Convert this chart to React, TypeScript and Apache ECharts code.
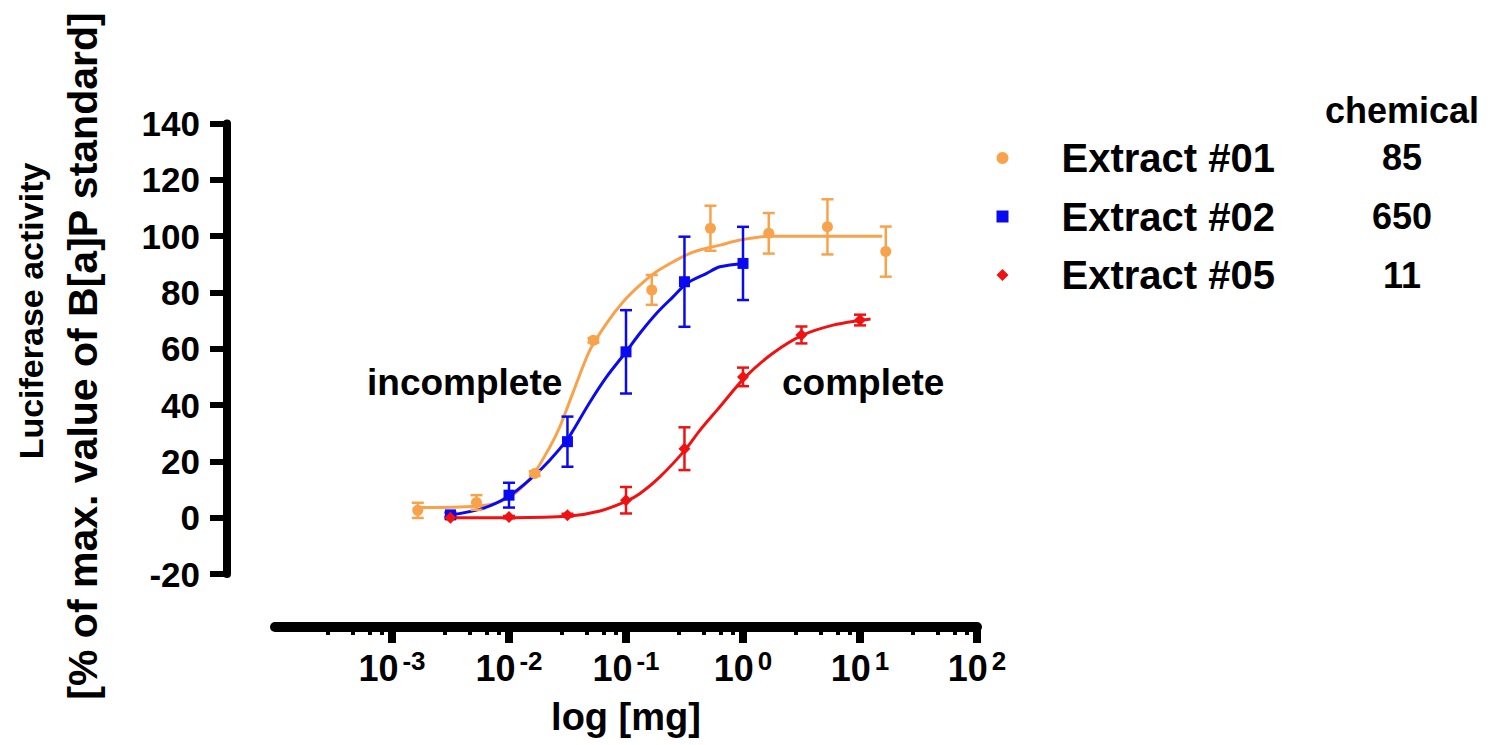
import React, { useEffect, useRef } from "react";
import * as echarts from "echarts";

const FONT = "'Liberation Sans', Arial, Helvetica, sans-serif";

// ---- series meta ----
const seriesNames = ["Extract #01", "Extract #02", "Extract #05"];
const seriesColors = ["#F9A24C", "#0A0AF2", "#F01212"];
const seriesSymbols = ["circle", "rect", "diamond"];
const chemicalHeader = "chemical";
const chemicalValues = ["85", "650", "11"];
const annotations = ["incomplete", "complete"];

// ---- measured points (dose in mg, mean %, error) ----
const ex01Dose = [0.00166, 0.00527, 0.0166, 0.0527, 0.166, 0.527, 1.66, 5.27, 16.6];
const ex01Mean = [2.6, 5.4, 15.7, 63, 80.9, 102.8, 101, 103.3, 94.5];
const ex01Err = [2.7, 2.6, 0.8, 0.8, 5.3, 8, 7.2, 9.8, 8.9];

const ex02Dose = [0.00316, 0.01, 0.0316, 0.1, 0.316, 1.0];
const ex02Mean = [1.0, 8.0, 27, 58.9, 83.8, 90.3];
const ex02Err = [0.8, 4.4, 8.9, 14.8, 16, 13];

const ex05Dose = [0.00316, 0.01, 0.0316, 0.1, 0.316, 1.0, 3.16, 10];
const ex05Mean = [0, 0.2, 0.9, 6.2, 24.5, 50, 64.9, 70.2];
const ex05Err = [0.4, 0.4, 0.5, 4.7, 7.6, 3.3, 3, 1.9];

// ---- fitted curves ----
const ex01Curve = [
  [0.00156, 3.6], [0.00527, 4.1], [0.00835, 5.6], [0.0117, 9.2], [0.016, 15.1],
  [0.0224, 25.2], [0.0272, 32.3], [0.0353, 44.5], [0.0491, 59.5], [0.0682, 69],
  [0.0946, 76.7], [0.1315, 82.6], [0.1827, 87.4], [0.2533, 90.9], [0.352, 93.9],
  [0.489, 95.7], [0.6355, 96.8], [0.944, 98.6], [1.7, 100], [15.5, 100],
];
const ex02Curve = [
  [0.00312, 0.9], [0.006, 3.3], [0.00977, 7.4], [0.016, 14.5], [0.0224, 20.5],
  [0.0318, 28], [0.0353, 31], [0.0491, 41], [0.0682, 50], [0.098, 58.4],
  [0.1315, 65.5], [0.1827, 72.6], [0.2533, 78.5], [0.33, 83.2], [0.489, 86.8],
  [0.6355, 89.1], [1.04, 90.3],
];
const ex05Curve = [
  [0.00316, 0], [0.0108, 0], [0.0328, 0.6], [0.06, 2.4], [0.1, 5.8], [0.132, 8.6],
  [0.195, 14.5], [0.319, 24], [0.428, 31], [0.6, 38.2], [1.05, 50], [1.8, 58.4],
  [3.26, 64.9], [5.89, 68.4], [10.4, 70.2], [12.3, 70.6],
];

// ---- axes ----
const xMin = 0.0001;
const xMax = 100;
const xTickValues = [0.001, 0.01, 0.1, 1, 10, 100];
const xTickExponents = ["-3", "-2", "-1", "0", "1", "2"];
const yMin = -20;
const yMax = 140;
const yStep = 20;
const xTitle = "log [mg]";
const yTitle1 = "Luciferase activity";
const yTitle2 = "[% of max. value of B[a]P standard]";

const groups = [
  { dose: ex01Dose, mean: ex01Mean, err: ex01Err, curve: ex01Curve },
  { dose: ex02Dose, mean: ex02Mean, err: ex02Err, curve: ex02Curve },
  { dose: ex05Dose, mean: ex05Mean, err: ex05Err, curve: ex05Curve },
];

function errorBarSeries(color: string, data: number[][]) {
  return {
    type: "custom",
    silent: true,
    z: 4,
    clip: false,
    encode: { x: 0, y: 1 },
    data,
    renderItem: (_params: any, api: any) => {
      const x = api.value(0);
      const y = api.value(1);
      const e = api.value(2);
      if (!(e > 0)) return null;
      const p1 = api.coord([x, y + e]);
      const p2 = api.coord([x, y - e]);
      const hw = 6;
      const style = { stroke: color, lineWidth: 2.5 };
      return {
        type: "group",
        children: [
          { type: "line", shape: { x1: p1[0], y1: p1[1], x2: p2[0], y2: p2[1] }, style },
          { type: "line", shape: { x1: p1[0] - hw, y1: p1[1], x2: p1[0] + hw, y2: p1[1] }, style },
          { type: "line", shape: { x1: p2[0] - hw, y1: p2[1], x2: p2[0] + hw, y2: p2[1] }, style },
        ],
      };
    },
  };
}

export default function App() {
  const ref = useRef<HTMLDivElement>(null);

  useEffect(() => {
    if (!ref.current) return;
    const chart = echarts.init(ref.current, undefined, { renderer: "svg" });

    const series: any[] = [];
    groups.forEach((g, i) => {
      series.push({
        type: "line",
        name: seriesNames[i] + " fit",
        data: g.curve,
        smooth: 0.3,
        showSymbol: false,
        silent: true,
        z: 3,
        lineStyle: { color: seriesColors[i], width: 3 },
        itemStyle: { color: seriesColors[i] },
      });
    });
    groups.forEach((g, i) => {
      series.push(
        errorBarSeries(
          seriesColors[i],
          g.dose.map((d, k) => [d, g.mean[k], g.err[k]])
        )
      );
    });
    groups.forEach((g, i) => {
      series.push({
        type: "scatter",
        name: seriesNames[i],
        data: g.dose.map((d, k) => [d, g.mean[k]]),
        symbol: seriesSymbols[i],
        symbolSize: i === 2 ? 12 : 11,
        z: 5,
        itemStyle: { color: seriesColors[i], opacity: 1 },
      });
    });

    const tickText = (v: number) => {
      const idx = xTickValues.findIndex((t) => Math.abs(Math.log10(t) - Math.log10(v)) < 1e-6);
      if (idx < 0) return "";
      return "10{sup|" + xTickExponents[idx] + "}";
    };

    const textStyle = (text: string, fontSize: number, align: string) => ({
      text,
      fontFamily: FONT,
      fontWeight: "bold",
      fontSize,
      fill: "#000",
      align,
      verticalAlign: "middle",
    });

    const graphic: any[] = [
      { type: "text", x: 31, y: 311, rotation: Math.PI / 2, style: textStyle(yTitle1, 34, "center") },
      { type: "text", x: 83, y: 356, rotation: Math.PI / 2, style: textStyle(yTitle2, 41, "center") },
      { type: "text", x: 367, y: 382, style: textStyle(annotations[0], 37, "left") },
      { type: "text", x: 782, y: 382, style: textStyle(annotations[1], 37, "left") },
      { type: "text", x: 1402, y: 110, style: textStyle(chemicalHeader, 36, "center") },
      ...chemicalValues.map((v, i) => ({
        type: "text",
        x: 1402,
        y: [157, 216, 275][i],
        style: textStyle(v, 36, "center"),
      })),
    ];

    chart.setOption({
      animation: false,
      backgroundColor: "#ffffff",
      grid: { left: 275, right: 518, top: 123.5, bottom: 171, containLabel: false },
      legend: {
        show: true,
        orient: "vertical",
        left: 996.5,
        top: 138,
        padding: 0,
        itemWidth: 12,
        itemHeight: 12,
        itemGap: 18.5,
        selectedMode: false,
        data: seriesNames.map((n, i) => ({ name: n, icon: seriesSymbols[i] })),
        textStyle: {
          fontFamily: FONT,
          fontWeight: "bold",
          fontSize: 40,
          lineHeight: 40,
          color: "#000",
          padding: [0, 0, 0, 48],
        },
      },
      xAxis: {
        type: "log",
        logBase: 10,
        min: xMin,
        max: xMax,
        position: "bottom",
        offset: 53,
        splitLine: { show: false },
        axisLine: { show: true, onZero: false, lineStyle: { color: "#000", width: 10 } },
        axisTick: {
          show: true,
          length: 16,
          customValues: xTickValues,
          lineStyle: { color: "#000", width: 8 },
        },
        minorTick: { show: true, splitNumber: 5, length: 8, lineStyle: { color: "#000", width: 4 } },
        minorSplitLine: { show: false },
        axisLabel: {
          show: true,
          customValues: xTickValues,
          margin: 21,
          color: "#000",
          formatter: (v: number) => tickText(v),
          rich: {
            sup: {
              fontFamily: FONT,
              fontWeight: "bold",
              fontSize: 26,
              lineHeight: 26,
              verticalAlign: "top",
              color: "#000",
              padding: [0, 0, 0, 4],
            },
          },
          fontFamily: FONT,
          fontWeight: "bold",
          fontSize: 36,
          lineHeight: 40,
        },
        name: xTitle,
        nameLocation: "middle",
        nameGap: 71,
        nameTextStyle: {
          fontFamily: FONT,
          fontWeight: "bold",
          fontSize: 38,
          color: "#000",
          verticalAlign: "top",
        },
      },
      yAxis: {
        type: "value",
        min: yMin,
        max: yMax,
        interval: yStep,
        offset: 48,
        splitLine: { show: false },
        axisLine: { show: true, onZero: false, lineStyle: { color: "#000", width: 8 } },
        axisTick: { show: true, length: 17, lineStyle: { color: "#000", width: 6 } },
        axisLabel: {
          margin: 27,
          color: "#000",
          fontFamily: FONT,
          fontWeight: "bold",
          fontSize: 35,
        },
      },
      graphic,
      series,
    });

    return () => {
      chart.dispose();
    };
  }, []);

  return (
    <div
      ref={ref}
      style={{ position: "fixed", left: 0, top: 0, width: 1495, height: 745, background: "#fff" }}
    />
  );
}
